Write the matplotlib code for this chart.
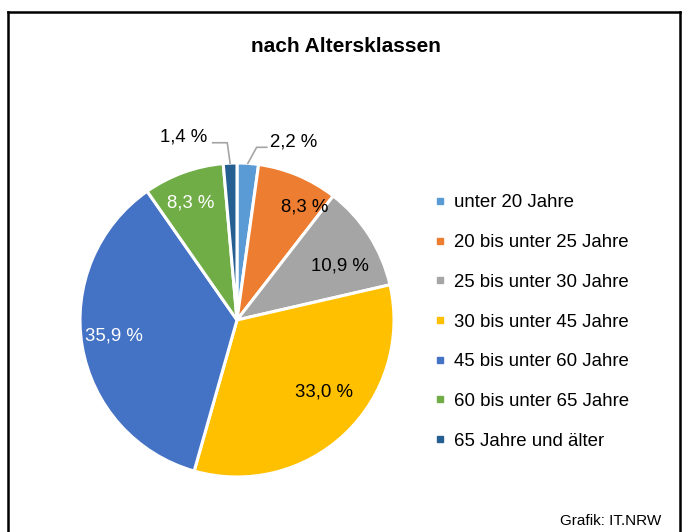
import matplotlib.pyplot as plt
from matplotlib.lines import Line2D
import numpy as np

plt.rcParams['font.family'] = ['Liberation Sans', 'DejaVu Sans']

# Daten
klassen = ['unter 20 Jahre', '20 bis unter 25 Jahre', '25 bis unter 30 Jahre',
           '30 bis unter 45 Jahre', '45 bis unter 60 Jahre', '60 bis unter 65 Jahre',
           '65 Jahre und älter']
anteile = [2.2, 8.3, 10.9, 33.0, 35.9, 8.3, 1.4]
farben = ['#5B9BD5', '#ED7D31', '#A5A5A5', '#FFC000', '#4472C4', '#70AD47', '#255E91']
textfarben = ['black', 'black', 'black', 'black', 'white', 'white', 'black']

# Beschriftungsposition je Segment (Winkelversatz in Grad, Radius)
label_pos = [None, (-8, 0.84), (-5, 0.74), (7, 0.72), (-2, 0.79), (1.5, 0.80), None]

fig = plt.figure(figsize=(6.85, 5.32), dpi=100)

# Rahmen
rahmen = dict(color='black', linewidth=1.8, transform=fig.transFigure)
fig.add_artist(Line2D([8 / 685, 8 / 685], [-0.1, 1 - 12 / 532], **rahmen))
fig.add_artist(Line2D([8 / 685, 680 / 685], [1 - 12 / 532, 1 - 12 / 532], **rahmen))
fig.add_artist(Line2D([680 / 685, 680 / 685], [-0.1, 1 - 12 / 532], **rahmen))

fig.text(346 / 685, 1 - 47 / 532, 'nach Altersklassen', ha='center', va='center',
         fontsize=15, fontweight='bold')
fig.text(661 / 685, 1 - 521 / 532, 'Grafik: IT.NRW', ha='right', va='center', fontsize=11)

# Kreisdiagramm
r_px = 157
ax = fig.add_axes([(237 - r_px) / 685, (532 - 320 - r_px) / 532, 2 * r_px / 685, 2 * r_px / 532])
wedges, _ = ax.pie(anteile, colors=farben, startangle=90, counterclock=False, radius=1,
                   wedgeprops=dict(edgecolor='white', linewidth=2.2))
ax.set_xlim(-1, 1)
ax.set_ylim(-1, 1)
ax.set_aspect('equal')
ax.axis('off')

fmt = lambda v: f'{v:.1f} %'.replace('.', ',')

for w, v, pos, tc in zip(wedges, anteile, label_pos, textfarben):
    if pos is None:
        continue
    ang = np.deg2rad((w.theta1 + w.theta2) / 2 + pos[0])
    ax.text(pos[1] * np.cos(ang), pos[1] * np.sin(ang), fmt(v), ha='center', va='center',
            fontsize=13.4, color=tc)

# kleine Segmente mit Führungslinien
for i, (dx, ex, tx, ty, ha) in {0: (0.125, 0.19, 0.21, 1.135, 'left'),
                                 6: (-0.062, -0.155, -0.19, 1.167, 'right')}.items():
    w = wedges[i]
    ang = np.deg2rad((w.theta1 + w.theta2) / 2)
    x0, y0 = np.cos(ang), np.sin(ang)
    ey = 1.10 if i == 0 else 1.129
    ax.plot([x0, dx, ex], [y0, ey, ey], color='#A5A5A5', linewidth=1.2, clip_on=False)
    ax.text(tx, ty, fmt(anteile[i]), ha=ha, va='center', fontsize=13.4, clip_on=False)

# Legende
handles = [Line2D([], [], marker='s', linestyle='none', markersize=4.5, color=c) for c in farben]
fig.legend(handles, klassen, loc='center left', bbox_to_anchor=(434 / 685, 1 - 322 / 532),
           frameon=False, fontsize=13.4, labelspacing=1.22, handlelength=0.6,
           handletextpad=0.5, borderpad=0, borderaxespad=0)

fig.savefig('out.png', dpi=100)
